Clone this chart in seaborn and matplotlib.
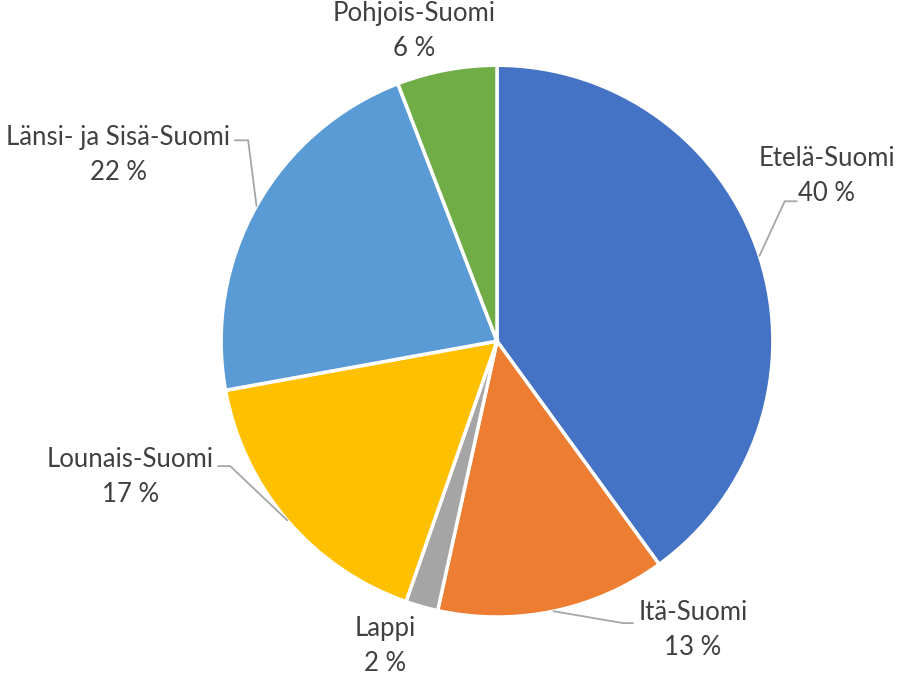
import numpy as np
import matplotlib
matplotlib.use("Agg")
import matplotlib.pyplot as plt
import seaborn as sns

# Data
regions = ["Etelä-Suomi", "Itä-Suomi", "Lappi", "Lounais-Suomi",
           "Länsi- ja Sisä-Suomi", "Pohjois-Suomi"]
shares = [40.0, 13.45, 1.9, 16.8, 22.0, 5.85]
colors = ["#4472C4", "#ED7D31", "#A5A5A5", "#FFC000", "#5B9BD5", "#70AD47"]

# Label placement (data units of the unit-radius pie) and leader elbows
label_pos = [(1.196, 0.598), (0.710, -1.047), (-0.406, -1.105),
             (-1.330, -0.493), (-1.372, 0.674), (-0.301, 1.123)]
elbows = [[(1.043, 0.507), (1.087, 0.507)],
          [(0.457, -1.022), (0.493, -1.022)],
          None,
          [(-0.967, -0.453), (-1.011, -0.453)],
          [(-0.902, 0.728), (-0.950, 0.728)],
          None]

sns.set_theme(style="white")
plt.rcParams["font.family"] = ["Lato", "DejaVu Sans"]

fig = plt.figure(figsize=(9.02, 6.77), dpi=100)
ax = fig.add_axes([0.245, 0.0886, 0.612, 0.815])
wedges, _ = ax.pie(shares, colors=colors, startangle=90, counterclock=False,
                   radius=1.0,
                   wedgeprops=dict(edgecolor="white", linewidth=2.5))
ax.set_xlim(-1, 1)
ax.set_ylim(-1, 1)
ax.set_aspect("equal")
ax.axis("off")

for w, name, val, pos, elb in zip(wedges, regions, shares, label_pos, elbows):
    ax.text(pos[0], pos[1], f"{name}\n{int(round(val))} %", ha="center",
            va="center", fontsize=18.5, color="#404040", linespacing=1.5,
            clip_on=False)
    if elb is not None:
        mid = np.deg2rad((w.theta1 + w.theta2) / 2)
        pts = [(np.cos(mid), np.sin(mid))] + elb
        xs, ys = zip(*pts)
        ax.plot(xs, ys, color="#A6A6A6", lw=1.3, clip_on=False,
                solid_joinstyle="miter")

fig.savefig("out.png", dpi=100)
